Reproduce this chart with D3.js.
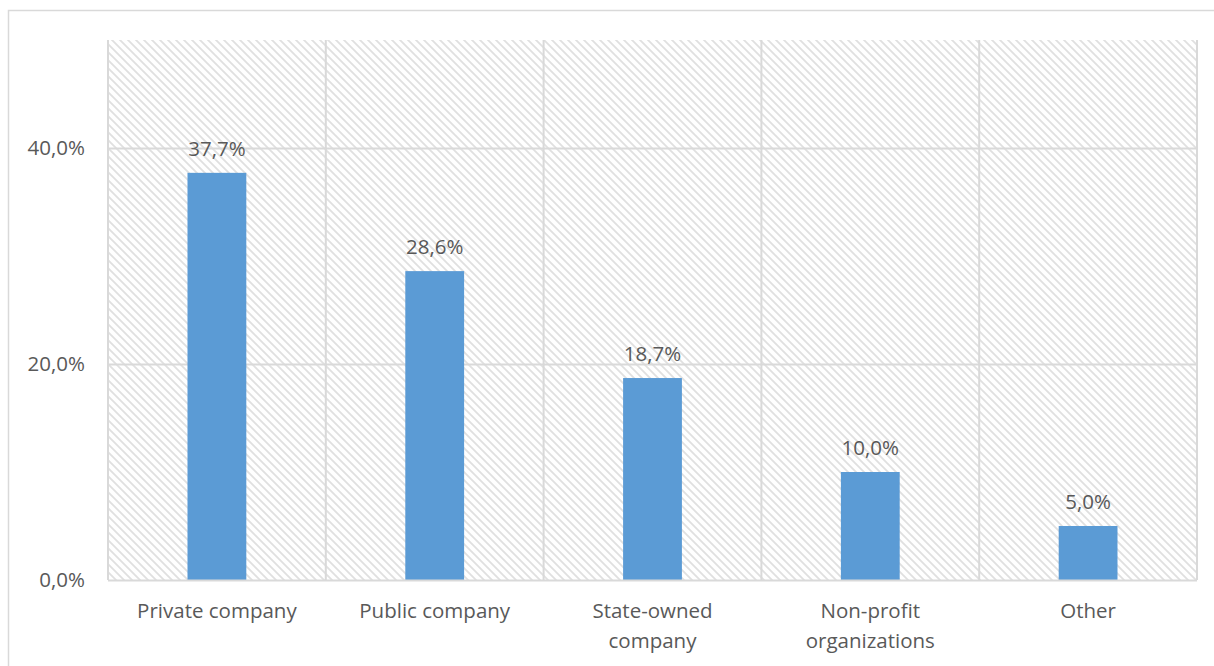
<!DOCTYPE html>
<html><head><meta charset="utf-8">
<script src="https://cdn.jsdelivr.net/npm/d3@7"></script>
<style>body{margin:0;background:#fff}svg{display:block}text{font-family:"Open Sans","Noto Sans",sans-serif;fill:#595959}</style>
</head><body>
<svg id="c" width="1214" height="666"></svg>
<script>
const categories = ["Private company","Public company","State-owned company","Non-profit organizations","Other"];
const categoryLines = [["Private company"],["Public company"],["State-owned","company"],["Non-profit","organizations"],["Other"]];
const values = [37.7, 28.6, 18.7, 10.0, 5.0];
const yTicks = [0, 20, 40];

const svg = d3.select("#c");
const m = {left:108, top:40, right:1197, bottom:580};
const fmt = v => v.toFixed(1).replace(".", ",") + "%";
const FS = 20.5;

const defs = svg.append("defs");
const pat = defs.append("pattern").attr("id","hatch").attr("patternUnits","userSpaceOnUse")
  .attr("width",8).attr("height",8);
pat.append("rect").attr("width",8).attr("height",8).attr("fill","#fff");
pat.append("path").attr("d","M-2,-2L10,10M-2,6L2,10M6,-2L10,2").attr("stroke","#e0e0e0").attr("stroke-width",1.8);

// outer chart border
svg.append("rect").attr("x",8.5).attr("y",10.5).attr("width",1220).attr("height",680)
  .attr("fill","#fff").attr("stroke","#d9d9d9").attr("stroke-width",1.5);

const x = d3.scaleBand().domain(categories).range([m.left, m.right]).paddingInner(0).paddingOuter(0);
const y = d3.scaleLinear().domain([0, 50]).range([m.bottom, m.top]);

svg.append("rect").attr("x",m.left).attr("y",m.top).attr("width",m.right-m.left).attr("height",m.bottom-m.top)
  .attr("fill","url(#hatch)");

// horizontal gridlines
svg.append("g").selectAll("line").data(yTicks.filter(d=>d>0)).join("line")
  .attr("x1",m.left).attr("x2",m.right).attr("y1",d=>Math.round(y(d))+0.5).attr("y2",d=>Math.round(y(d))+0.5)
  .attr("stroke","#d9d9d9").attr("stroke-width",2);
// vertical gridlines
const vx = categories.map(c=>x(c)).concat([m.right]);
svg.append("g").selectAll("line").data(vx).join("line")
  .attr("x1",d=>d).attr("x2",d=>d).attr("y1",m.top).attr("y2",m.bottom)
  .attr("stroke","#d9d9d9").attr("stroke-width",2);

// bars
const bw = x.bandwidth()*0.27;
svg.append("g").selectAll("rect").data(values).join("rect")
  .attr("x",(d,i)=>x(categories[i])+x.bandwidth()/2-bw/2).attr("width",bw)
  .attr("y",d=>y(d)).attr("height",d=>y(0)-y(d)).attr("fill","#5b9bd5");

// axis baseline
svg.append("line").attr("x1",m.left).attr("x2",m.right).attr("y1",m.bottom+0.5).attr("y2",m.bottom+0.5)
  .attr("stroke","#d9d9d9").attr("stroke-width",2);

// data labels
svg.append("g").selectAll("text").data(values).join("text")
  .attr("x",(d,i)=>x(categories[i])+x.bandwidth()/2).attr("y",d=>y(d)-17)
  .attr("text-anchor","middle").attr("font-size",FS).text(d=>fmt(d));

// y tick labels
svg.append("g").selectAll("text").data(yTicks).join("text")
  .attr("x",85).attr("y",d=>y(d)+7).attr("text-anchor","end").attr("font-size",FS).text(d=>fmt(d));

// category labels
const cl = svg.append("g").selectAll("text").data(categoryLines).join("text")
  .attr("text-anchor","middle").attr("font-size",FS);
cl.each(function(lines,i){
  const t = d3.select(this);
  lines.forEach((s,j)=>t.append("tspan").attr("x",x(categories[i])+x.bandwidth()/2).attr("y",618+j*30).text(s));
});
</script>
</body></html>
